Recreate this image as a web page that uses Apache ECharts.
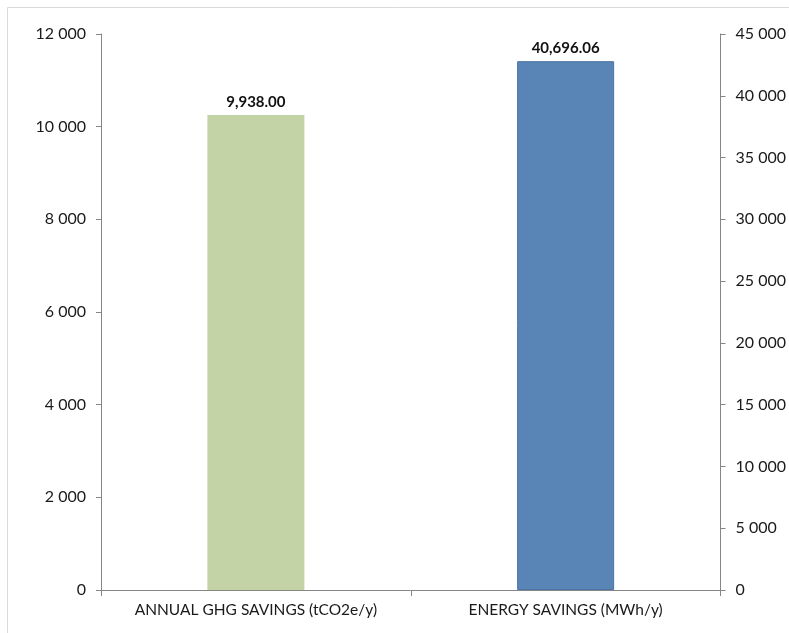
<!DOCTYPE html>
<html>
<head>
<meta charset="utf-8">
<script src="https://cdn.jsdelivr.net/npm/echarts@6/dist/echarts.min.js"></script>
<style>
  html, body { margin: 0; padding: 0; background: #fff; }
  #chart { width: 789px; height: 633px; }
</style>
</head>
<body>
<div id="chart"></div>
<script>
  // categories and values
  const categories = ['ANNUAL GHG SAVINGS (tCO2e/y)', 'ENERGY SAVINGS (MWh/y)']
  const ghgValues = [10250, '-']      // left axis
  const energyValues = ['-', 42800]   // right axis
  const labelTexts = ['9,938.00', '40,696.06']

  const fmt = v => String(v).replace(/\B(?=(\d{3})+(?!\d))/g, ' ')
  const font = 'Lato, "Open Sans", sans-serif'

  let chart = echarts.init(document.getElementById('chart'))
  let option = {
    animation: false,
    graphic: [{
      type: 'rect',
      shape: {x: 7.5, y: 7.5, width: 900, height: 700},
      style: {fill: 'none', stroke: '#d9d9d9', lineWidth: 1},
      silent: true
    }],
    grid: {left: 101, right: 68, top: 34, bottom: 43},
    xAxis: {
      type: 'category',
      data: categories,
      axisLine: {lineStyle: {color: '#868686', width: 1}},
      axisTick: {show: true, interval: 0, length: 6, alignWithLabel: false, lineStyle: {color: '#868686'}},
      axisLabel: {interval: 0, hideOverlap: false, color: '#1a1a1a', fontFamily: font, fontSize: 15.5, margin: 12}
    },
    yAxis: [{
      type: 'value',
      min: 0, max: 12000, interval: 2000,
      splitLine: {show: false},
      axisLine: {show: true, lineStyle: {color: '#868686'}},
      axisTick: {show: true, length: 5, lineStyle: {color: '#868686'}},
      axisLabel: {color: '#1a1a1a', fontFamily: font, fontSize: 16, margin: 15, formatter: fmt}
    }, {
      type: 'value',
      position: 'right',
      min: 0, max: 45000, interval: 5000,
      splitLine: {show: false},
      axisLine: {show: true, lineStyle: {color: '#868686'}},
      axisTick: {show: true, length: 5, lineStyle: {color: '#868686'}},
      axisLabel: {color: '#1a1a1a', fontFamily: font, fontSize: 16, margin: 15, formatter: fmt}
    }],
    series: [{
      type: 'bar',
      yAxisIndex: 0,
      data: ghgValues,
      barWidth: 97,
      barGap: '-100%',
      itemStyle: {color: '#c3d3a5'},
      label: {
        show: true, position: 'top', distance: 5,
        fontFamily: font, fontSize: 15, fontWeight: 'bold', color: '#111',
        formatter: p => labelTexts[p.dataIndex]
      }
    }, {
      type: 'bar',
      yAxisIndex: 1,
      data: energyValues,
      barWidth: 97,
      barGap: '-100%',
      itemStyle: {color: '#5884b6', borderColor: '#4a74a6', borderWidth: 1},
      label: {
        show: true, position: 'top', distance: 6,
        fontFamily: font, fontSize: 15, fontWeight: 'bold', color: '#111',
        formatter: p => labelTexts[p.dataIndex]
      }
    }]
  }
  chart.setOption(option)
</script>
</body>
</html>
